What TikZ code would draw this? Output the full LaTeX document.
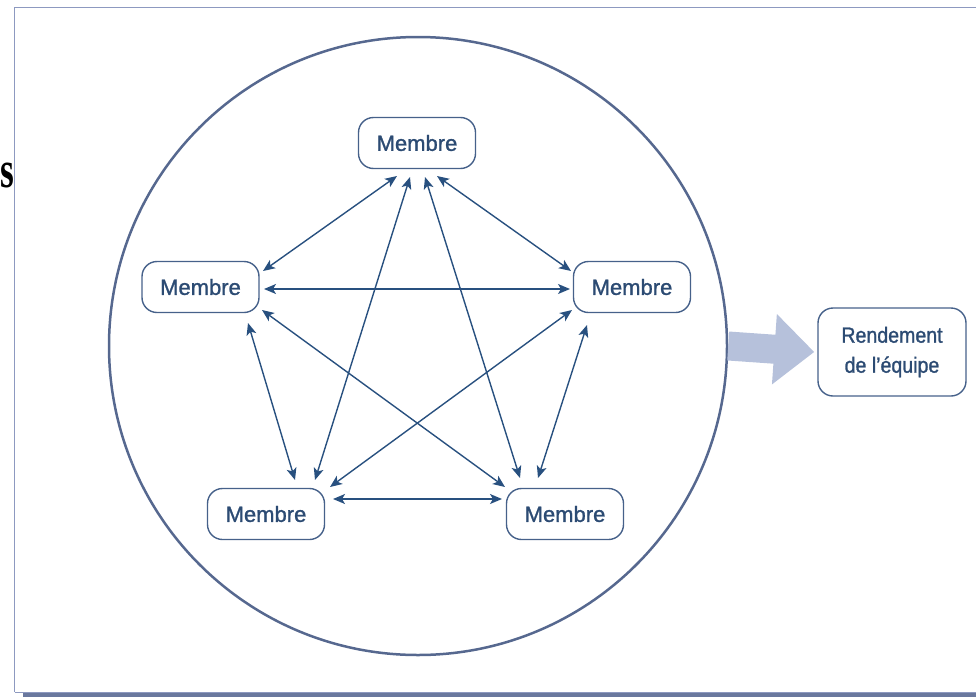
\documentclass[tikz,border=0pt]{standalone}
\usepackage{fontspec}
\setmainfont[FakeBold=1.2]{Liberation Sans}
\newfontfamily\serifface{Liberation Serif}
\newfontfamily\narrowface[FakeStretch=0.89,FakeBold=1.2]{Liberation Sans}
\usetikzlibrary{arrows.meta,calc}

\definecolor{inkblue}{HTML}{2C4B73}
\definecolor{boxline}{HTML}{46618A}
\definecolor{ringline}{HTML}{56688F}
\definecolor{linkblue}{HTML}{28507F}
\definecolor{flowblue}{HTML}{B6C1DB}
\definecolor{frameline}{HTML}{8D99C0}
\definecolor{frameshade}{HTML}{6A789E}

\tikzset{
  member/.style={draw=boxline, line width=1.4pt, rounded corners=15pt,
    minimum width=117pt, minimum height=51pt, inner sep=0pt,
    text=inkblue, font=\fontsize{22}{26}\selectfont},
  result/.style={draw=boxline, line width=1.4pt, rounded corners=15pt,
    minimum width=148pt, minimum height=88pt, inner sep=0pt, align=center,
    text=inkblue, font=\narrowface\fontsize{22}{30}\selectfont},
  tip/.tip={Stealth[length=12pt,width=10pt,inset=3pt]},
  link/.style={draw=linkblue, line width=1.4pt, tip-tip},
}

\begin{document}
\begin{tikzpicture}[x=1pt,y=-1pt]
\useasboundingbox (0,0) rectangle (976,696);
\clip (0,0) rectangle (976,696);

% page frame with its shaded bottom edge
\draw[frameline, line width=1.4pt] (976,7.5) -- (14.5,7.5) -- (14.5,692);
\draw[frameline, line width=1pt] (14.5,692) -- (976,692);
\fill[frameshade] (23,693) rectangle (976,697);

% stray letter at the left margin
\node[anchor=base east, inner sep=0pt, font=\serifface\bfseries\fontsize{52}{52}\selectfont] (s) at (14,187) {\scalebox{0.68}[1]{s}};

% team ring
\node[draw=ringline, line width=2.5pt, circle, minimum size=618pt, inner sep=0pt] (C) at (418,346) {};

% members
\node[member] (T)  at (417,143)   {Membre};
\node[member] (L)  at (200.5,287) {Membre};
\node[member] (R)  at (632,287)   {Membre};
\node[member] (BL) at (266,514)   {Membre};
\node[member] (BR) at (565,514)   {Membre};

% outcome
\node[result] (P) at (892,352) {Rendement\\de l’équipe};

% flow from the team to its outcome
\draw[flowblue, line width=29pt, -{Triangle[length=40pt,width=68pt]}] (C.east) -- ([xshift=-3pt]P.west);

% every member linked with every other one
\draw[link] ($(T.center)+(-20,33)$)  -- ($(L.center)+(62.5,-16)$);
\draw[link] ($(T.center)+(-7,34)$)   -- ($(BL.center)+(49,-34)$);
\draw[link] ($(T.center)+(8,34)$)    -- ($(BR.center)+(-45,-36)$);
\draw[link] ($(T.center)+(20,33)$)   -- ($(R.center)+(-61,-16)$);
\draw[link] ($(L.center)+(63.5,2)$)  -- ($(R.center)+(-62,2)$);
\draw[link] ($(L.center)+(61.5,23)$) -- ($(BR.center)+(-60,-27)$);
\draw[link] ($(L.center)+(47.5,36)$) -- ($(BL.center)+(29,-34)$);
\draw[link] ($(R.center)+(-60,23)$)  -- ($(BL.center)+(64,-27)$);
\draw[link] ($(R.center)+(-45,38)$)  -- ($(BR.center)+(-27,-36)$);
\draw[link] ($(BL.center)+(67,-15)$) -- ($(BR.center)+(-63,-15)$);
\end{tikzpicture}
\end{document}
